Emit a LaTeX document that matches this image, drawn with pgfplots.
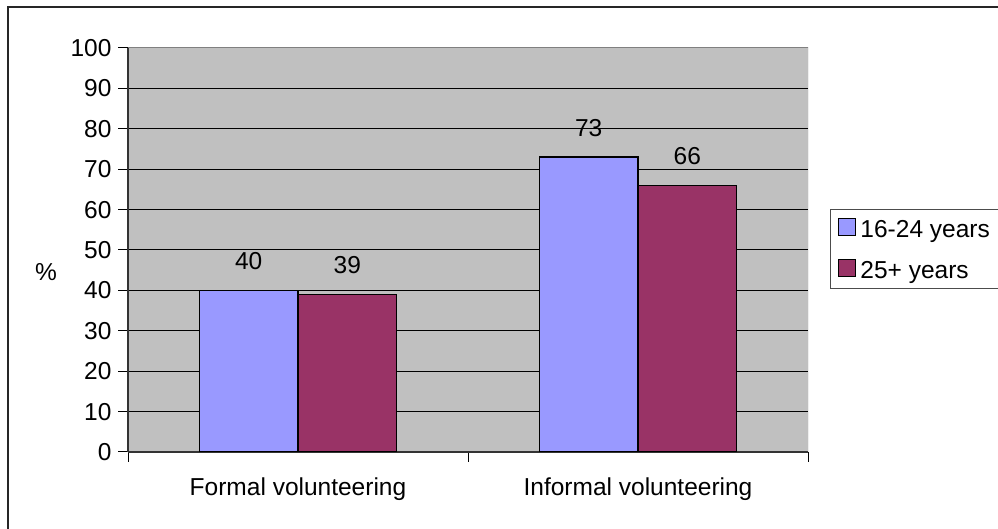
\documentclass[border=0pt]{standalone}
\usepackage{pgfplots}
\pgfplotsset{compat=1.18}
\usepackage{fontspec}
\setmainfont{Liberation Sans}
\definecolor{cblue}{HTML}{9999FF}
\definecolor{cmaroon}{HTML}{993366}
\definecolor{cgray}{HTML}{C0C0C0}
\newcommand{\bigf}{\fontsize{24.5bp}{28bp}\selectfont}
\begin{document}
\begin{tikzpicture}[x=1bp,y=1bp]
\useasboundingbox (0,0) rectangle (998,529);
\clip (0,0) rectangle (998,529);
\fill[white] (0,0) rectangle (998,529);
\draw[line width=1.5bp,black!85] (8,-10) -- (8,522) -- (1010,522);
\begin{axis}[
  at={(128bp,77bp)}, anchor=south west,
  scale only axis, width=680bp, height=404bp,
  xmin=-0.5, xmax=1.5, ymin=0, ymax=100,
  axis background/.style={fill=cgray},
  axis lines=left,
  axis line style={-, line width=1.2bp, black!80},
  ybar=0pt, bar width=0.29,
  xtick={-0.5,0.5,1.5}, xticklabels={},
  extra x ticks={0,1},
  extra x tick labels={Formal volunteering, Informal volunteering},
  extra x tick style={major tick length=0pt, grid=none,
     xticklabel style={yshift=-22bp}},
  ytick={0,10,...,100},
  tick align=outside,
  major tick length=10bp,
  tick style={line width=1bp, black},
  ymajorgrids, grid style={line width=1bp, black},
  yticklabel style={font=\bigf, xshift=-3bp},
  xticklabel style={font=\bigf},
  /pgf/number format/assume math mode=true,
  nodes near coords,
  every node near coord/.append style={font=\bigf, anchor=south, inner sep=0pt, yshift=20bp},
  legend style={at={(1.032,0.601)}, anchor=north west, draw=black!70, line width=1bp,
     font=\bigf, inner xsep=8bp, inner ysep=8.5bp,
     row sep=20bp, fill=white, legend cell align=left,
     nodes={inner xsep=4bp, inner ysep=0pt}},
  legend image code/.code={\draw[#1, draw=black, line width=1.2bp] (0bp,-6bp) rectangle (17bp,11bp);},
]
\addplot[fill=cblue, draw=black, line width=1.5bp] coordinates {(0,40) (1,73)};
\addplot[fill=cmaroon, draw=black, line width=1.5bp] coordinates {(0,39) (1,66)};
\legend{16-24 years, 25+ years}
\draw[line width=1bp, black!50] (rel axis cs:0,1) -- (rel axis cs:1,1) -- (rel axis cs:1,0);
\end{axis}
\node[font=\bigf] at (46,257) {\%};
\end{tikzpicture}
\end{document}
